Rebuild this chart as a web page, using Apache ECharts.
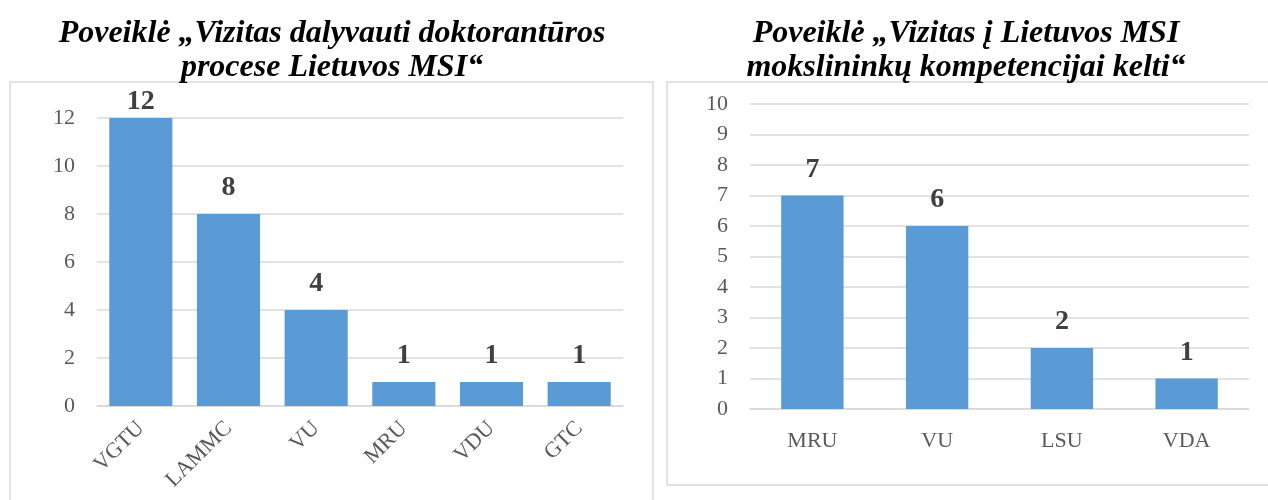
<!DOCTYPE html>
<html>
<head>
<meta charset="utf-8">
<script src="https://cdn.jsdelivr.net/npm/echarts@6/dist/echarts.min.js"></script>
<style>
  html, body { margin: 0; padding: 0; background: #fff; }
  #chart { width: 1268px; height: 500px; }
</style>
</head>
<body>
<div id="chart"></div>
<script>
// left chart: doctoral visits
var leftTitle = 'Poveiklė „Vizitas dalyvauti doktorantūros\nprocese Lietuvos MSI“'
var leftCategories = ['VGTU', 'LAMMC', 'VU', 'MRU', 'VDU', 'GTC']
var leftValues = [12, 8, 4, 1, 1, 1]

// right chart: competence visits
var rightTitle = 'Poveiklė „Vizitas į Lietuvos MSI\nmokslininkų kompetencijai kelti“'
var rightCategories = ['MRU', 'VU', 'LSU', 'VDA']
var rightValues = [7, 6, 2, 1]

var serif = '"Liberation Serif", "Times New Roman", serif'
var gridGray = '#d9d9d9'
var barColor = '#5b9bd5'

function yAxis (gridIndex, max, interval) {
  return {
    type: 'value',
    gridIndex: gridIndex,
    min: 0,
    max: max,
    interval: interval,
    axisLine: { show: false },
    axisTick: { show: false },
    axisLabel: { fontFamily: serif, fontSize: 22, color: '#595959', margin: 22 },
    splitLine: { lineStyle: { color: gridGray, width: 1.5 } }
  }
}

function xAxis (gridIndex, cats, rotate) {
  return {
    type: 'category',
    gridIndex: gridIndex,
    data: cats,
    axisLine: { lineStyle: { color: gridGray, width: 1.5 } },
    axisTick: { show: false },
    axisLabel: {
      fontFamily: serif,
      fontSize: 22,
      color: '#595959',
      rotate: rotate,
      margin: rotate ? 19 : 21,
      interval: 0
    }
  }
}

function barSeries (idx, values, gap, top) {
  // a label that would stick out above the plot is pulled down onto the bar
  var data = values.map(function (v) {
    return v === top ? { value: v, label: { distance: 2 } } : v
  })
  return {
    type: 'bar',
    xAxisIndex: idx,
    yAxisIndex: idx,
    data: data,
    barCategoryGap: gap,
    itemStyle: { color: barColor },
    label: {
      show: true,
      position: 'top',
      distance: 12,
      fontFamily: serif,
      fontSize: 28,
      fontWeight: 'bold',
      color: '#404040'
    }
  }
}

var chart = echarts.init(document.getElementById('chart'))
chart.setOption({
  animation: false,
  title: [
    {
      text: leftTitle, left: 327, top: 12, textAlign: 'center',
      textStyle: { fontFamily: serif, fontSize: 32, fontWeight: 'bold', fontStyle: 'italic', color: '#000', lineHeight: 34 }
    },
    {
      text: rightTitle, left: 961, top: 12, textAlign: 'center',
      textStyle: { fontFamily: serif, fontSize: 32, fontWeight: 'bold', fontStyle: 'italic', color: '#000', lineHeight: 34 }
    }
  ],
  graphic: [
    { type: 'rect', shape: { x: 10, y: 82, width: 643, height: 440 }, style: { fill: 'none', stroke: gridGray, lineWidth: 1.5 } },
    { type: 'rect', shape: { x: 667, y: 82, width: 620, height: 403 }, style: { fill: 'none', stroke: gridGray, lineWidth: 1.5 } }
  ],
  grid: [
    { left: 97, right: 645, top: 118, bottom: 94 },
    { left: 750, right: 19, top: 104, bottom: 91 }
  ],
  xAxis: [xAxis(0, leftCategories, 45), xAxis(1, rightCategories, 0)],
  yAxis: [yAxis(0, 12, 2), yAxis(1, 10, 1)],
  series: [barSeries(0, leftValues, '28%', 12), barSeries(1, rightValues, '50%', 10)]
})
</script>
</body>
</html>
